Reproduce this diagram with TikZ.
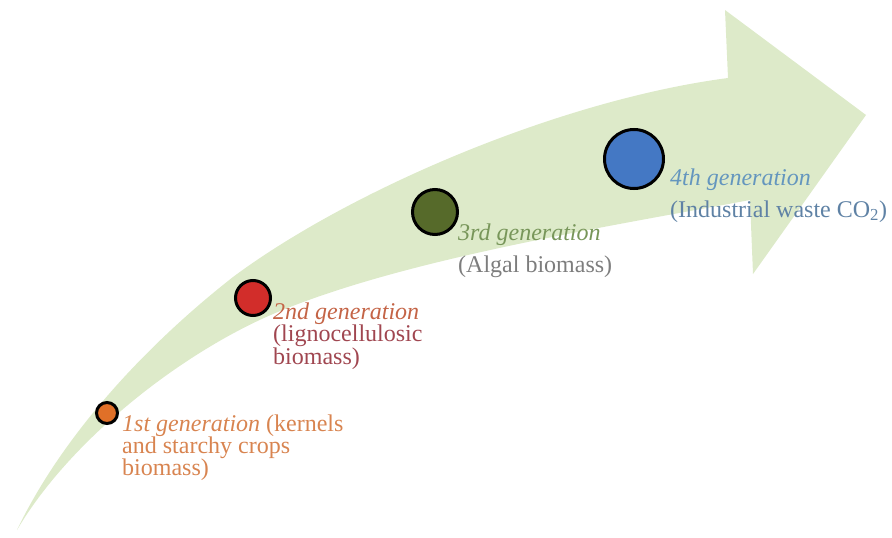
\documentclass[tikz,border=0pt]{standalone}
\usepackage{fontspec}
\setmainfont{Liberation Serif}
\definecolor{arrowgreen}{RGB}{221,234,201}
\definecolor{genone}{RGB}{224,112,40}
\definecolor{gentwo}{RGB}{210,45,42}
\definecolor{genthree}{RGB}{86,106,42}
\definecolor{genfour}{RGB}{68,120,196}
\definecolor{txtone}{RGB}{216,132,80}
\definecolor{txttwoa}{RGB}{196,100,70}
\definecolor{txttwob}{RGB}{160,70,80}
\definecolor{txtthreea}{RGB}{120,150,90}
\definecolor{txtthreeb}{RGB}{125,125,125}
\definecolor{txtfoura}{RGB}{100,150,190}
\definecolor{txtfourb}{RGB}{95,130,165}
\tikzset{
    gen/.style={circle,draw=black,line width=3pt,inner sep=0pt},
    genlabel/.style={anchor=base west,align=left,inner sep=0pt},
}

\begin{document}
\begin{tikzpicture}[x=1pt,y=-1pt]
            \useasboundingbox (0,0) rectangle (892,538);
            % the bent arrow
            \fill[arrowgreen] (17,530)
                .. controls (60,440) and (140,350) .. (233,277)
                .. controls (350,190) and (560,100) .. (728,78)
                -- (725,10) -- (866,115) -- (753,274) -- (750,200)
                .. controls (600,228) and (400,260) .. (273,314)
                .. controls (180,354) and (70,440) .. (17,530)
                -- cycle;
            % generations
            \node[gen,fill=genone,minimum size=21pt] (g1) at (107,413) {};
            \node[gen,fill=gentwo,minimum size=35pt] (g2) at (253,298) {};
            \node[gen,fill=genthree,minimum size=45pt] (g3) at (435,212) {};
            \node[gen,fill=genfour,minimum size=59pt] (g4) at (634,159) {};
            % labels, placed at the baseline of their last line
            \node[genlabel,font=\fontsize{24}{22}\selectfont,text=txtone] (l1) at (122,475)
                {\textit{1st generation} (kernels\\and starchy crops\\biomass)};
            \node[genlabel,font=\fontsize{24}{22.5}\selectfont,text=txttwob] (l2) at (273,364)
                {\textcolor{txttwoa}{\textit{2nd generation}}\\(lignocellulosic\\biomass)};
            \node[genlabel,font=\fontsize{24}{32}\selectfont,text=txtthreeb] (l3) at (458,272)
                {\textcolor{txtthreea}{\textit{3rd generation}}\\(Algal biomass)};
            \node[genlabel,font=\fontsize{24}{32}\selectfont,text=txtfourb] (l4) at (670,217)
                {\textcolor{txtfoura}{\textit{4th generation}}\\(Industrial waste CO\textsubscript{2})};
        \end{tikzpicture}
\end{document}
